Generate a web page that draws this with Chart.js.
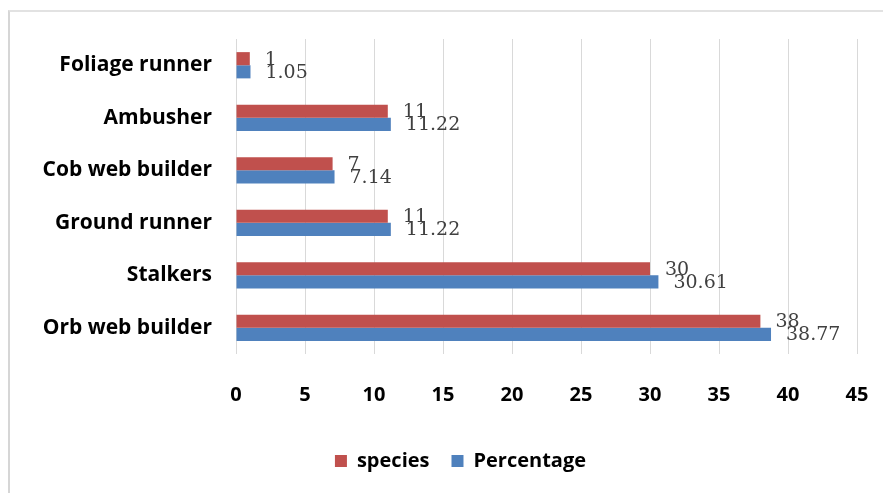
<!DOCTYPE html>
<html>
<head>
<meta charset="utf-8">
<script src="https://cdn.jsdelivr.net/npm/chart.js@4/dist/chart.umd.min.js"></script>
<style>
  html, body { margin: 0; padding: 0; background: #fff; }
  #wrap { position: relative; width: 883px; height: 493px; overflow: hidden; }
  #frame { position: absolute; left: 8px; top: 10px; width: 900px; height: 500px;
           border-left: 2px solid #d6d6d6; border-top: 2px solid #e2e2e2; }
  #c { position: absolute; left: 0; top: 0; }
</style>
</head>
<body>
<div id="wrap">
  <div id="frame"></div>
  <canvas id="c" width="883" height="493"></canvas>
</div>
<script>
// Spider guild composition
const categories = ['Foliage runner', 'Ambusher', 'Cob web builder', 'Ground runner', 'Stalkers', 'Orb web builder'];
const speciesCounts = [1, 11, 7, 11, 30, 38];
const percentages = [1.05, 11.22, 7.14, 11.22, 30.61, 38.77];
const xTicks = [0, 5, 10, 15, 20, 25, 30, 35, 40, 45];

const RED = '#C0504D';
const BLUE = '#4F81BD';

// Writes each bar's value just past its end
const valueLabels = {
  id: 'valueLabels',
  afterDatasetsDraw(chart) {
    const ctx = chart.ctx;
    ctx.save();
    ctx.font = '19px "DejaVu Serif"';
    ctx.fillStyle = '#404040';
    ctx.textAlign = 'left';
    ctx.textBaseline = 'middle';
    chart.data.datasets.forEach((ds, i) => {
      const meta = chart.getDatasetMeta(i);
      meta.data.forEach((bar, j) => {
        ctx.fillText(String(ds.data[j]), bar.x + 15, bar.y + 1);
      });
    });
    ctx.restore();
  }
};

// Nudges the legend a little right of the canvas centre
const legendShift = {
  id: 'legendShift',
  afterLayout(chart) {
    if (chart.legend) {
      chart.legend.left += 32;
      chart.legend.right += 32;
    }
  }
};

new Chart(document.getElementById('c'), {
  type: 'bar',
  data: {
    labels: categories,
    datasets: [
      { label: 'species', data: speciesCounts, backgroundColor: RED,
        categoryPercentage: 0.5, barPercentage: 1.0 },
      { label: 'Percentage', data: percentages, backgroundColor: BLUE,
        categoryPercentage: 0.5, barPercentage: 1.0 }
    ]
  },
  options: {
    indexAxis: 'y',
    responsive: false,
    animation: false,
    layout: { padding: { top: 39, right: 26, bottom: 12, left: 0 } },
    plugins: {
      legend: {
        position: 'bottom',
        labels: {
          boxWidth: 12, boxHeight: 12, padding: 22,
          color: '#000',
          font: { family: 'Open Sans', size: 20, weight: 'bold' }
        }
      },
      tooltip: { enabled: false }
    },
    scales: {
      x: {
        min: 0, max: 45,
        afterBuildTicks(scale) { scale.ticks = xTicks.map(v => ({ value: v })); },
        afterFit(scale) {
          scale.height = 75;
          scale.paddingLeft = 0;
          scale.paddingRight = 0;
        },
        grid: { color: '#d9d9d9', lineWidth: 1, drawTicks: false },
        border: { display: false },
        ticks: {
          padding: 29, color: '#000',
          font: { family: 'Open Sans', size: 20, weight: 'bold' }
        }
      },
      y: {
        afterFit(scale) { scale.width = 236; },
        grid: { display: false, drawTicks: false },
        border: { display: false },
        ticks: {
          padding: 24, color: '#000',
          font: { family: 'Open Sans', size: 21, weight: 'bold' }
        }
      }
    }
  },
  plugins: [valueLabels, legendShift]
});
</script>
</body>
</html>
